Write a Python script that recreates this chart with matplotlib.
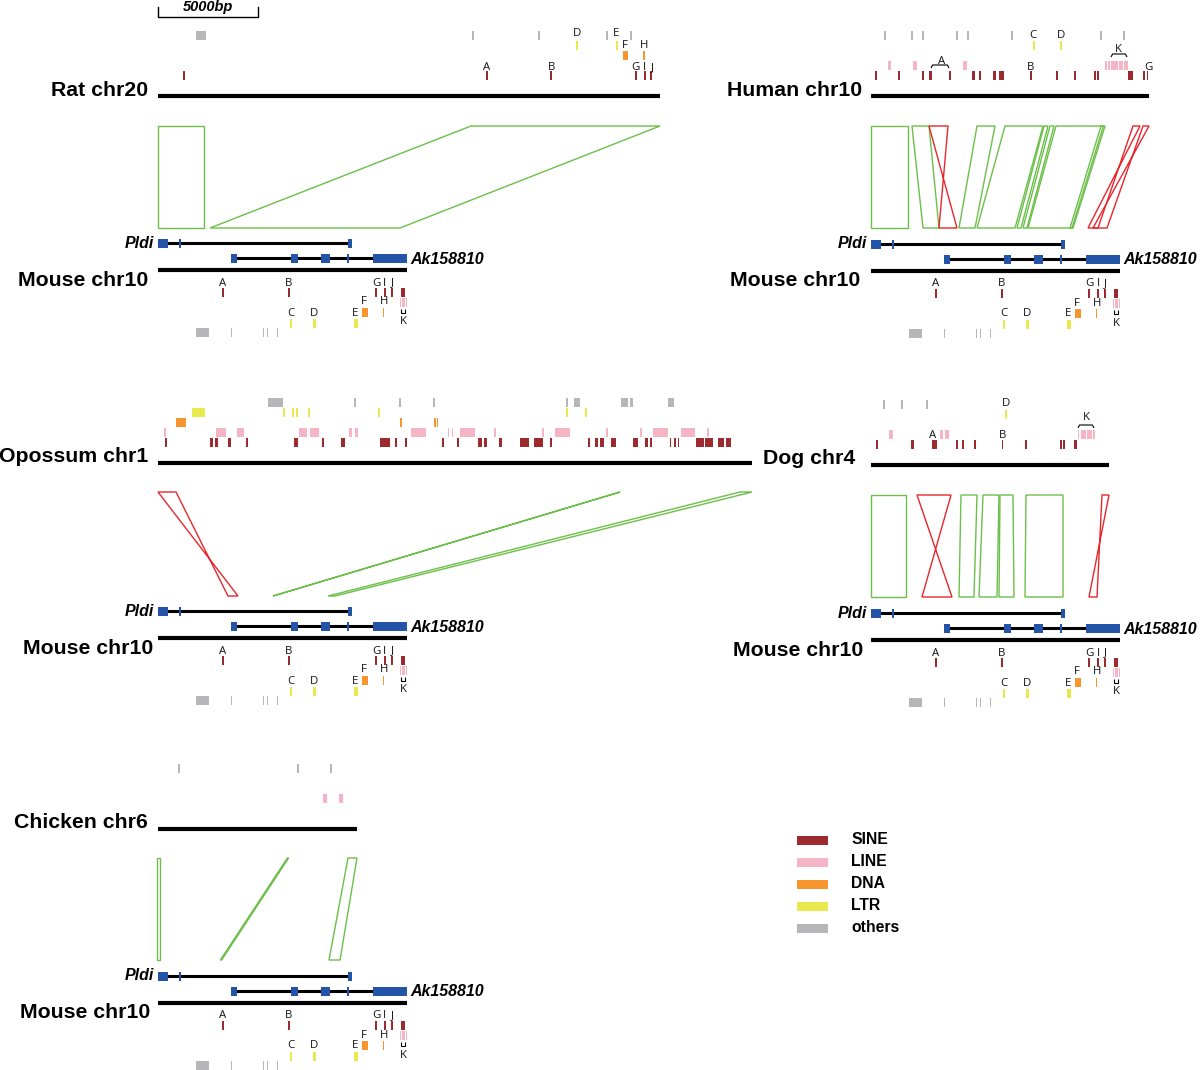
import matplotlib
matplotlib.use("Agg")
import matplotlib.pyplot as plt
from matplotlib.patches import Rectangle, Polygon, PathPatch
from matplotlib.path import Path
import matplotlib.transforms as mtransforms

# ---------------- data: positions in kb from the start of each drawn segment ----------------
SCALE_BAR_KB = 5.0

MOUSE_LEN = 12.45
PLDI_SPAN = (0.0, 9.6)
PLDI_EXONS = [(0.0, 0.5), (1.05, 1.13), (9.5, 9.7)]
AK_SPAN = (3.8, 11.0)
AK_EXONS = [(3.65, 3.95), (6.65, 7.0), (8.15, 8.6), (9.45, 9.55), (10.75, 12.45)]

MOUSE_SINE = [(3.21, 3.29), (6.51, 6.59), (10.86, 10.94), (11.31, 11.39), (11.66, 11.74), (12.15, 12.33)]
MOUSE_LINE = [(12.1, 12.17), (12.21, 12.34), (12.38, 12.45)]
MOUSE_DNA = [(10.2, 10.5), (11.23, 11.3)]
MOUSE_LTR = [(6.62, 6.7), (7.73, 7.88), (9.8, 10.0)]
MOUSE_OTHERS = [(1.9, 2.55), (3.63, 3.69), (5.23, 5.28), (5.43, 5.48), (5.93, 5.98)]
MOUSE_LABELS = [("A", 3.25, 13), ("B", 6.55, 13), ("G", 10.9, 13), ("I", 11.35, 13), ("J", 11.7, 13),
                ("F", 10.3, 32), ("H", 11.3, 32), ("C", 6.65, 43), ("D", 7.8, 43), ("E", 9.85, 43),
                ("K", 12.25, 52)]
MOUSE_CUPS = [(12.16, 12.34, 39)]

RAT_LEN = 25.1
RAT_OTHERS = [(1.9, 2.4), (15.72, 15.78), (19.02, 19.08), (22.42, 22.48), (23.62, 23.68)]
RAT_LTR = [(20.92, 21.0), (22.92, 23.0)]
RAT_DNA = [(23.25, 23.5), (24.27, 24.33)]
RAT_SINE = [(1.27, 1.35), (16.4, 16.5), (19.62, 19.68), (23.86, 23.94), (24.31, 24.39), (24.62, 24.7)]
RAT_LABELS = [("D", 20.96, -62), ("E", 22.92, -62), ("F", 23.35, -51), ("H", 24.3, -51),
              ("A", 16.45, -28), ("B", 19.7, -28), ("G", 23.85, -28), ("I", 24.35, -28), ("J", 24.7, -28)]
RAT_LINKS = [(0.0, 2.3, 0.0, 2.3, "+"), (15.65, 25.1, 2.6, 12.1, "+")]

HUMAN_LEN = 13.9
HUMAN_OTHERS = [(0.67, 0.72), (2.02, 2.07), (2.57, 2.62), (4.27, 4.32), (4.82, 4.87), (7.02, 7.07),
                (11.47, 11.52), (12.62, 12.67)]
HUMAN_LTR = [(8.12, 8.2), (9.45, 9.55)]
HUMAN_LINE = [(0.85, 1.0), (2.1, 2.3), (4.6, 4.8), (11.7, 11.78), (11.85, 11.93), (12.0, 12.35),
              (12.4, 12.6), (12.65, 12.85)]
HUMAN_SINE = [(0.22, 0.28), (1.37, 1.43), (2.57, 2.63), (2.9, 3.05), (3.92, 3.98), (5.05, 5.2), (5.4, 5.5),
              (6.1, 6.25), (6.4, 6.65), (7.95, 8.05), (9.25, 9.35), (10.15, 10.25), (11.15, 11.25),
              (11.3, 11.4), (12.85, 13.1), (13.62, 13.7), (13.78, 13.85)]
HUMAN_LABELS = [("C", 8.1, -61), ("D", 9.5, -61), ("K", 12.35, -46), ("A", 3.55, -34),
                ("B", 8.0, -29), ("G", 13.85, -29)]
HUMAN_BRACKETS = [(3.0, 3.9, -31), (12.0, 12.8, -42)]
HUMAN_LINKS = [(0.0, 1.85, 0.0, 1.85, "+"), (2.05, 2.9, 2.6, 3.4, "+"), (2.9, 3.85, 3.4, 4.3, "-"),
               (5.3, 6.2, 4.4, 5.2, "+"), (6.7, 8.6, 5.3, 7.2, "+"), (8.65, 8.85, 7.3, 7.5, "+"),
               (8.95, 9.15, 7.6, 7.8, "+"), (9.25, 11.7, 7.85, 10.1, "+"), (11.5, 11.62, 9.95, 10.05, "+"),
               (13.1, 13.45, 10.85, 11.35, "-"), (13.6, 13.9, 11.1, 11.8, "-")]

OPO_LEN = 29.7
OPO_OTHERS = [(5.5, 6.25), (9.82, 9.88), (12.07, 12.13), (13.77, 13.83), (20.42, 20.48), (20.8, 21.1),
              (23.15, 23.5), (23.6, 23.75), (25.5, 25.8)]
OPO_LTR = [(1.7, 2.35), (6.27, 6.33), (6.72, 6.78), (6.92, 7.0), (7.5, 7.6), (11.02, 11.08),
           (20.42, 20.48), (21.37, 21.43)]
OPO_DNA = [(0.9, 1.4), (12.12, 12.18), (13.82, 13.88), (13.93, 13.99)]
OPO_LINE = [(0.32, 0.38), (2.9, 3.4), (3.95, 4.3), (7.05, 7.45), (7.6, 8.05), (9.55, 9.7), (9.85, 10.0),
            (12.65, 13.4), (14.5, 14.55), (14.7, 14.75), (15.1, 15.85), (16.82, 16.88), (19.22, 19.28),
            (19.85, 20.6), (22.42, 22.48), (24.12, 24.18), (24.75, 25.5), (26.15, 26.85), (27.47, 27.53)]
OPO_SINE = [(0.37, 0.43), (2.6, 2.75), (2.85, 3.0), (3.5, 3.65), (4.42, 4.5), (6.8, 7.0), (8.22, 8.3),
            (9.15, 9.35), (11.1, 11.6), (11.87, 11.95), (12.37, 12.47), (14.22, 14.3), (14.97, 15.05),
            (16.0, 16.2), (16.3, 16.45), (17.05, 17.2), (18.1, 18.55), (18.8, 19.25), (19.6, 19.72),
            (21.5, 21.58), (21.85, 22.0), (22.1, 22.3), (22.65, 22.9), (23.75, 24.0), (24.35, 24.5),
            (24.6, 24.7), (25.58, 25.63), (25.82, 25.87), (25.98, 26.03), (26.9, 27.3), (27.35, 27.75),
            (28.0, 28.3), (28.4, 28.65)]
OPO_LINKS = [(0.0, 0.9, 3.5, 4.0, "-"), (23.1, 23.11, 5.75, 5.76, "+"), (29.1, 29.7, 8.5, 8.85, "+")]

DOG_LEN = 11.9
DOG_OTHERS = [(0.62, 0.67), (1.52, 1.57), (2.77, 2.82)]
DOG_LTR = [(6.72, 6.78)]
DOG_LINE = [(0.9, 1.1), (3.45, 3.6), (3.7, 3.9), (10.35, 10.42), (10.48, 10.75), (10.8, 11.05), (11.1, 11.2)]
DOG_SINE = [(0.25, 0.37), (2.0, 2.17), (3.05, 3.3), (4.25, 4.35), (4.55, 4.65), (5.15, 5.25), (6.53, 6.58),
            (7.7, 7.8), (9.47, 9.53), (9.62, 9.68), (10.15, 10.3)]
DOG_LABELS = [("D", 6.75, -61), ("K", 10.75, -47), ("A", 3.1, -29), ("B", 6.6, -29)]
DOG_BRACKETS = [(10.35, 11.15, -40)]
DOG_LINKS = [(0.0, 1.75, 0.0, 1.75, "+"), (2.3, 4.0, 2.55, 4.05, "-"), (4.5, 5.3, 4.4, 5.15, "+"),
             (5.6, 6.4, 5.4, 6.3, "+"), (6.45, 7.1, 6.4, 7.15, "+"), (7.75, 9.6, 7.7, 9.6, "+"),
             (11.55, 11.9, 10.9, 11.3, "-")]

CHK_LEN = 9.95
CHK_OTHERS = [(1.02, 1.08), (6.97, 7.03), (8.62, 8.68)]
CHK_LINE = [(8.25, 8.45), (9.05, 9.25)]
CHK_LINKS = [(-0.05, 0.12, -0.05, 0.12, "+"), (6.47, 6.53, 3.12, 3.18, "+"), (9.5, 9.95, 8.55, 9.1, "+")]

LEGEND_CLASSES = ["SINE", "LINE", "DNA", "LTR", "others"]

# ---------------- style / layout ----------------
COLORS = {"SINE": "#9c2a2e", "LINE": "#f5b5c4", "DNA": "#f7962f", "LTR": "#e9e84c", "others": "#b7b7ba"}
BLUE = "#2454a8"
GREEN = "#6cbf4a"
RED = "#e8262b"
PX_PER_KB = 20.0
TOP_ROW = {"others": -65, "LTR": -55, "DNA": -45, "LINE": -35, "SINE": -25}
MOUSE_ROW = {"SINE": 18, "LINE": 28, "DNA": 38, "LTR": 49, "others": 58}
ROW_H = 9
NAME_FONT = dict(fontsize=15.3, fontweight="bold", family=["Liberation Sans", "DejaVu Sans"])
LETTER_FONT = dict(fontsize=8.2, family=["Open Sans", "DejaVu Sans"], color="#111111")

fig = plt.figure(figsize=(12, 10.7), dpi=100)
ax = fig.add_axes([0, 0, 1, 1])
ax.set_xlim(0, 1200)
ax.set_ylim(1070, 0)
ax.axis("off")


def kb_transform(x0):
    return mtransforms.Affine2D().scale(PX_PER_KB, 1.0).translate(x0, 0) + ax.transData


def spans(tr, items, y, h, color):
    for s, e in items:
        w = max(e - s, 0.06)
        ax.add_patch(Rectangle((s, y), w, h, transform=tr, facecolor=color, edgecolor="none", lw=0))


def bracket(tr, s, e, y):
    verts = [(s, y + 3), (s + 0.08, y), (e - 0.08, y), (e, y + 3)]
    ax.add_patch(PathPatch(Path(verts), transform=tr, fill=False, edgecolor="black", lw=0.8))


def draw_species(x0, y, name, length, reps, labels=(), brackets=(), name_dx=-10):
    tr = kb_transform(x0)
    ax.plot([0, length], [y, y], transform=tr, color="black", lw=3.0, solid_capstyle="butt")
    for cls, items in reps.items():
        spans(tr, items, y + TOP_ROW[cls], ROW_H, COLORS[cls])
    for t, p, dy in labels:
        ax.text(p, y + dy, t, transform=tr, ha="center", va="center", **LETTER_FONT)
    for s, e, dy in brackets:
        bracket(tr, s, e, y + dy)
    ax.text(x0 + name_dx, y - 6, name, ha="right", va="center", **NAME_FONT)


def draw_mouse(x0, y, name_dx=-10):
    tr = kb_transform(x0)
    ax.plot([0, MOUSE_LEN], [y, y], transform=tr, color="black", lw=3.0, solid_capstyle="butt")
    gy = y - 27
    ax.plot(PLDI_SPAN, [gy, gy], transform=tr, color="black", lw=2.2, solid_capstyle="butt", zorder=2)
    for s, e in PLDI_EXONS:
        ax.add_patch(Rectangle((s, gy - 4.5), e - s, 9, transform=tr, facecolor=BLUE, edgecolor="none",
                               zorder=3))
    ax.text(x0 - 4, gy, "Pldi", ha="right", va="center", fontsize=11.5, fontweight="bold", style="italic",
            family=["Liberation Sans", "DejaVu Sans"])
    ay = y - 12
    ax.plot(AK_SPAN, [ay, ay], transform=tr, color="black", lw=2.2, solid_capstyle="butt", zorder=2)
    for s, e in AK_EXONS:
        ax.add_patch(Rectangle((s, ay - 4.5), e - s, 9, transform=tr, facecolor=BLUE, edgecolor="none",
                               zorder=3))
    ax.text(MOUSE_LEN + 0.15, ay + 1, "Ak158810", transform=tr, ha="left", va="center", fontsize=11.5,
            fontweight="bold", style="italic", family=["Liberation Sans", "DejaVu Sans"])
    reps = {"SINE": MOUSE_SINE, "LINE": MOUSE_LINE, "DNA": MOUSE_DNA, "LTR": MOUSE_LTR, "others": MOUSE_OTHERS}
    for cls, items in reps.items():
        spans(tr, items, y + MOUSE_ROW[cls], ROW_H, COLORS[cls])
    for t, p, dy in MOUSE_LABELS:
        ax.text(p, y + dy, t, transform=tr, ha="center", va="center", **LETTER_FONT)
    for s, e, dy in MOUSE_CUPS:
        verts = [(s, y + dy), (s, y + dy + 3.5), (e, y + dy + 3.5), (e, y + dy)]
        ax.add_patch(PathPatch(Path(verts), transform=tr, fill=False, edgecolor="black", lw=0.8))
    ax.text(x0 + name_dx, y + 10, "Mouse chr10", ha="right", va="center", **NAME_FONT)


def draw_links(x0, y_top, y_bot, links):
    tr = kb_transform(x0)
    for ts, te, bs, be, strand in links:
        if strand == "+":
            verts = [(ts, y_top), (te, y_top), (be, y_bot), (bs, y_bot)]
            col = GREEN
        else:
            verts = [(ts, y_top), (te, y_top), (bs, y_bot), (be, y_bot)]
            col = RED
        ax.add_patch(Polygon(verts, closed=True, transform=tr, fill=False, edgecolor=col, lw=1.0,
                             joinstyle="miter"))


# scale bar
trs = kb_transform(158)
ax.plot([0, 0, SCALE_BAR_KB, SCALE_BAR_KB], [7, 17, 17, 7], transform=trs, color="black", lw=1.0)
ax.text(SCALE_BAR_KB / 2, 7, "5000bp", transform=trs, ha="center", va="center", fontsize=10.5,
        fontweight="bold", style="italic", family=["Liberation Sans", "DejaVu Sans"])

# Rat
draw_species(158, 96, "Rat chr20", RAT_LEN,
             {"others": RAT_OTHERS, "LTR": RAT_LTR, "DNA": RAT_DNA, "SINE": RAT_SINE}, RAT_LABELS)
draw_links(158, 126, 228, RAT_LINKS)
draw_mouse(158, 270)

# Human
draw_species(871, 96, "Human chr10", HUMAN_LEN,
             {"others": HUMAN_OTHERS, "LTR": HUMAN_LTR, "LINE": HUMAN_LINE, "SINE": HUMAN_SINE},
             HUMAN_LABELS, HUMAN_BRACKETS, name_dx=-9)
draw_links(871, 126, 228, HUMAN_LINKS)
draw_mouse(871, 271, name_dx=-11)

# Opossum
draw_species(158, 463, "Opossum chr1", OPO_LEN,
             {"others": OPO_OTHERS, "LTR": OPO_LTR, "DNA": OPO_DNA, "LINE": OPO_LINE, "SINE": OPO_SINE})
draw_links(158, 492, 596, OPO_LINKS)
draw_mouse(158, 638, name_dx=-5)

# Dog
draw_species(871, 465, "Dog chr4", DOG_LEN,
             {"others": DOG_OTHERS, "LTR": DOG_LTR, "LINE": DOG_LINE, "SINE": DOG_SINE},
             DOG_LABELS, DOG_BRACKETS, name_dx=-16)
draw_links(871, 495, 597, DOG_LINKS)
draw_mouse(871, 640, name_dx=-8)

# Chicken
draw_species(158, 829, "Chicken chr6", CHK_LEN, {"others": CHK_OTHERS, "LINE": CHK_LINE})
draw_links(158, 858, 960, CHK_LINKS)
draw_mouse(158, 1003, name_dx=-8)

# legend
for i, cls in enumerate(LEGEND_CLASSES):
    yy = 840 + 22 * i
    ax.add_patch(Rectangle((797, yy - 4.5), 31, 9, facecolor=COLORS[cls], edgecolor="none"))
    ax.text(851, yy, cls, ha="left", va="center", fontsize=11.3, fontweight="bold",
            family=["Liberation Sans", "DejaVu Sans"])

fig.savefig("out.png", dpi=100)
